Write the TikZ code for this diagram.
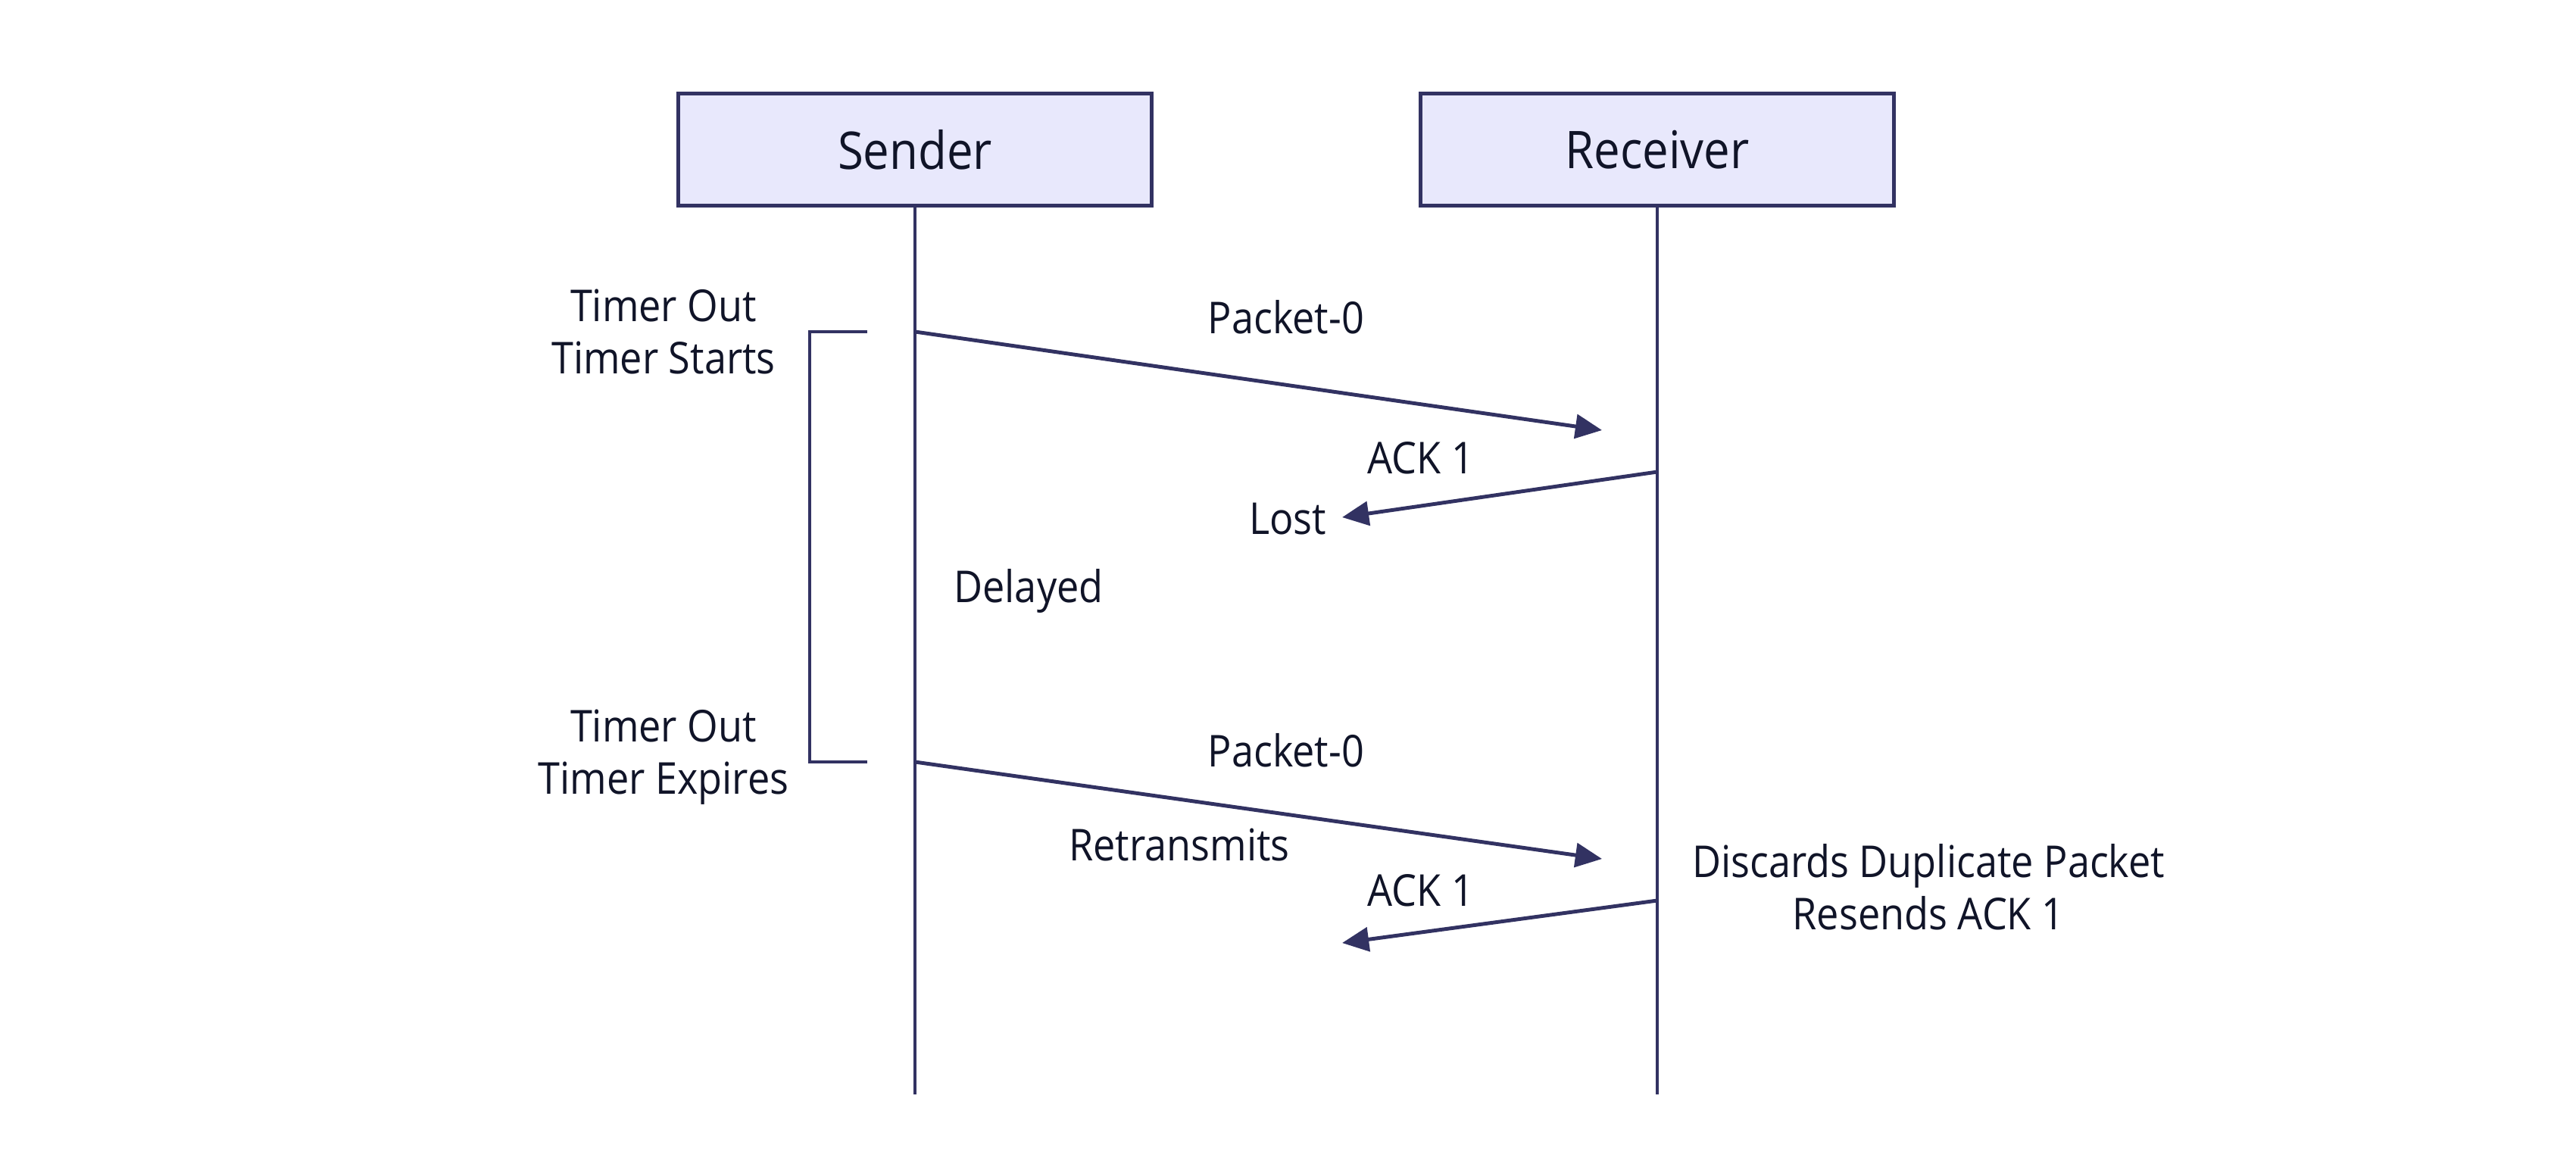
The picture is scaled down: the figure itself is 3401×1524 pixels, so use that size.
\documentclass[tikz,border=0pt]{standalone}
\usepackage{fontspec}
\setmainfont[FakeStretch=0.9]{Open Sans}
\usetikzlibrary{arrows.meta}
\definecolor{boxfill}{RGB}{232,232,252}
\definecolor{navy}{RGB}{50,50,98}
\definecolor{txt}{RGB}{16,20,40}
\tikzset{
  actor/.style={draw=navy, line width=1.4pt, fill=boxfill, minimum width=6.24cm, minimum height=1.47cm, inner sep=0pt, text=txt, font=\fontsize{19.5}{23}\selectfont},
  lbl/.style={text=txt, inner sep=0pt, align=center, font=\fontsize{16.5}{19.6}\selectfont},
  life/.style={draw=navy, line width=0.9pt},
  msg/.style={draw=navy, line width=1.4pt, -{Triangle[length=10pt,width=9pt]}},
  brk/.style={draw=navy, line width=1.1pt}
}
\begin{document}
\begin{tikzpicture}[x=0.01cm,y=-0.01cm]
\useasboundingbox (0,0) rectangle (3401,1524);
\fill[white] (0,0) rectangle (3401,1524);
% actors
\node[actor] (sender) at (1208,197.5) {Sender};
\node[actor] (receiver) at (2188,197.5) {Receiver};
% lifeline ends
\coordinate (sEnd) at (1208,1445);
\coordinate (rEnd) at (2188,1445);
\draw[life] (sender.south) -- (sEnd);
\draw[life] (receiver.south) -- (rEnd);
% message points
\coordinate (s1) at (1208,438);
\coordinate (t1) at (2115,568);
\coordinate (r2) at (2188,623);
\coordinate (t2) at (1772,683);
\coordinate (s3) at (1208,1006);
\coordinate (t3) at (2115,1134);
\coordinate (r4) at (2188,1189);
\coordinate (t4) at (1772,1245);
% bracket
\coordinate (b1) at (1145,438);
\coordinate (b2) at (1069,438);
\coordinate (b3) at (1069,1006);
\coordinate (b4) at (1145,1006);
\draw[brk] (b1) -- (b2) -- (b3) -- (b4);
% messages
\draw[msg] (s1) -- (t1);
\draw[msg] (r2) -- (t2);
\draw[msg] (s3) -- (t3);
\draw[msg] (r4) -- (t4);
% labels
\node[lbl] (p0a) at (1698,419) {Packet-0};
\node[lbl] (ack1a) at (1876,605) {ACK 1};
\node[lbl] (lost) at (1700,685) {Lost};
\node[lbl] (delayed) at (1358,780) {Delayed};
\node[lbl] (tstart) at (876,438) {Timer Out\\Timer Starts};
\node[lbl] (texp) at (876,1000) {Timer Out\\Timer Expires};
\node[lbl] (p0b) at (1698,991) {Packet-0};
\node[lbl] (retx) at (1557,1115) {Retransmits};
\node[lbl] (ack1b) at (1876,1176) {ACK 1};
\node[lbl] (disc) at (2546,1171) {Discards Duplicate Packet\\Resends ACK 1};
\end{tikzpicture}
\end{document}
